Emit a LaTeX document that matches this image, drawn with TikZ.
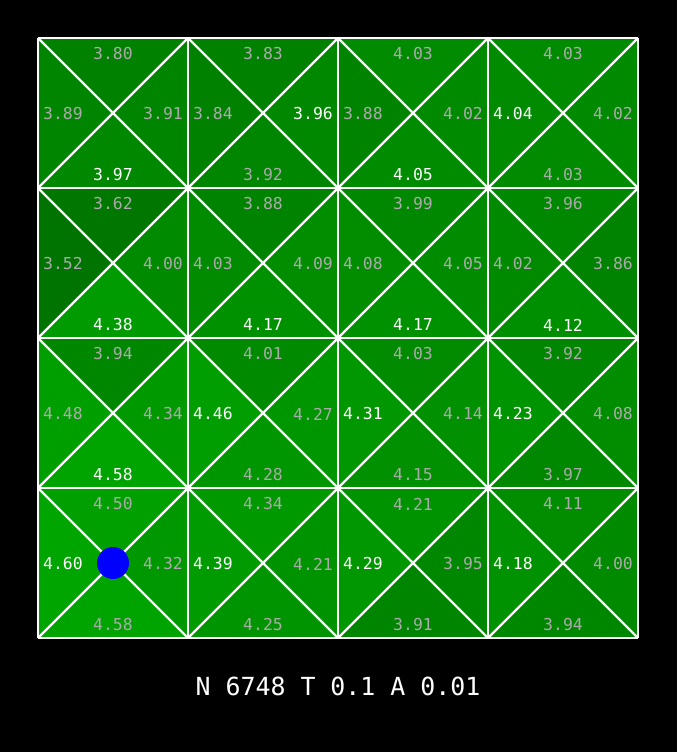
\documentclass[tikz,border=0pt]{standalone}
\usepackage{fontspec}
\setmonofont{DejaVu Sans Mono}
\definecolor{lgray}{RGB}{170,170,170}
\begin{document}
\begin{tikzpicture}[x=1bp,y=-1bp,
  lab/.style={font=\ttfamily\fontsize{16.5}{16.5}\selectfont, inner sep=0pt},
  gridline/.style={draw=white, line width=2.2bp},
  status/.style={font=\ttfamily\fontsize{25}{25}\selectfont, text=white, inner sep=0pt}]
\fill[black] (0,0) rectangle (677,752);
\useasboundingbox (0,0) rectangle (677,752);
\foreach \c/\r/\vt/\vl/\vr/\vb/\w in {
 0/0/3.80/3.89/3.91/3.97/4, 1/0/3.83/3.84/3.96/3.92/3, 2/0/4.03/3.88/4.02/4.05/4, 3/0/4.03/4.04/4.02/4.03/2,
 0/1/3.62/3.52/4.00/4.38/4, 1/1/3.88/4.03/4.09/4.17/4, 2/1/3.99/4.08/4.05/4.17/4, 3/1/3.96/4.02/3.86/4.12/4,
 0/2/3.94/4.48/4.34/4.58/4, 1/2/4.01/4.46/4.27/4.28/2, 2/2/4.03/4.31/4.14/4.15/2, 3/2/3.92/4.23/4.08/3.97/2,
 0/3/4.50/4.60/4.32/4.58/2, 1/3/4.34/4.39/4.21/4.25/2, 2/3/4.21/4.29/3.95/3.91/2, 3/3/4.11/4.18/4.00/3.94/2}{
  \pgfmathsetmacro\x{38+150*\c}
  \pgfmathsetmacro\y{38+150*\r}
  \pgfmathtruncatemacro\gt{138+45*(\vt-4)}
  \pgfmathtruncatemacro\gl{138+45*(\vl-4)}
  \pgfmathtruncatemacro\gr{138+45*(\vr-4)}
  \pgfmathtruncatemacro\gb{138+45*(\vb-4)}
  \definecolor{ct}{RGB}{0,\gt,0}
  \definecolor{cl}{RGB}{0,\gl,0}
  \definecolor{cr}{RGB}{0,\gr,0}
  \definecolor{cb}{RGB}{0,\gb,0}
  \fill[ct] (\x,\y) -- ++(150,0) -- ++(-75,75) -- cycle;
  \fill[cl] (\x,\y) -- ++(0,150) -- ++(75,-75) -- cycle;
  \fill[cr] (\x+150,\y) -- ++(0,150) -- ++(-75,-75) -- cycle;
  \fill[cb] (\x,\y+150) -- ++(150,0) -- ++(-75,-75) -- cycle;
  \ifnum\w=1 \def\ltop{white}\else\def\ltop{lgray}\fi
  \ifnum\w=2 \def\lleft{white}\else\def\lleft{lgray}\fi
  \ifnum\w=3 \def\lright{white}\else\def\lright{lgray}\fi
  \ifnum\w=4 \def\lbot{white}\else\def\lbot{lgray}\fi
  \node[lab, text=\ltop] (t-\c-\r) at (\x+75,\y+16) {\vt};
  \node[lab, text=\lleft, anchor=west] (l-\c-\r) at (\x+5,\y+76) {\vl};
  \node[lab, text=\lright, anchor=east] (r-\c-\r) at (\x+145,\y+76) {\vr};
  \node[lab, text=\lbot] (b-\c-\r) at (\x+75,\y+137) {\vb};
  \draw[gridline] (\x,\y) -- (\x+150,\y+150);
  \draw[gridline] (\x+150,\y) -- (\x,\y+150);
}
\foreach \i in {0,...,4}{
  \draw[gridline] (38+150*\i,38) -- (38+150*\i,638);
  \draw[gridline] (38,38+150*\i) -- (638,38+150*\i);
}
\node[circle, fill=blue, minimum size=32bp, inner sep=0pt] (agent) at (113,563) {};
\node[status] (info) at (338,686) {N 6748 T 0.1 A 0.01};
\end{tikzpicture}
\end{document}
